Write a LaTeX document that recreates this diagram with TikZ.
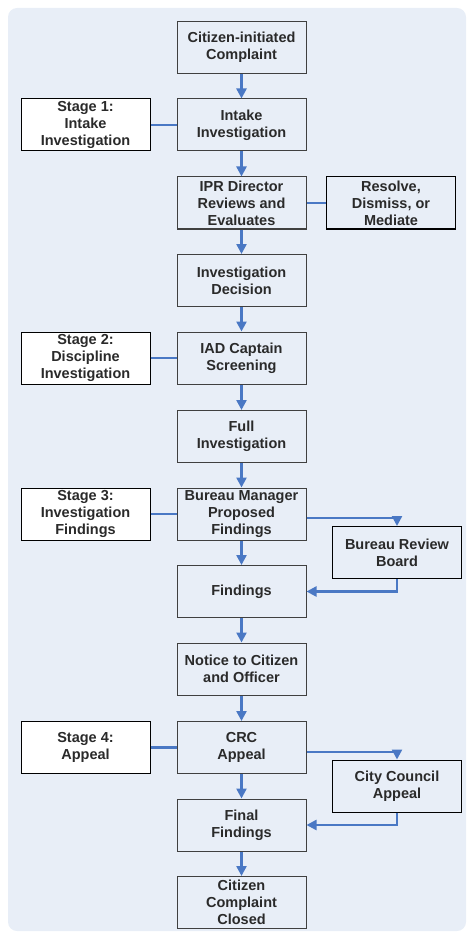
\documentclass[tikz,border=0pt]{standalone}
\usepackage{fontspec}
\setmainfont{Liberation Sans}
\usetikzlibrary{arrows.meta}
\definecolor{bgblue}{HTML}{E8EEF7}
\definecolor{flow}{HTML}{4A78C4}
\definecolor{ink}{HTML}{2A2A2A}
\definecolor{frame}{HTML}{404040}
\begin{document}
\begin{tikzpicture}[x=1pt,y=-1pt,
  box/.style={draw=frame, line width=1pt, minimum width=129pt, minimum height=52pt,
    inner sep=1pt, align=center, text=ink, font=\fontsize{14.5}{17}\selectfont\bfseries},
  stagebox/.style={box, draw=black, fill=white},
  sidebox/.style={box, draw=black},
  link/.style={draw=flow, line width=2.4pt},
  flowarrow/.style={link, -{Triangle[length=10pt,width=10pt]}}]

% page and rounded panel
\useasboundingbox (0,0) rectangle (467,933);
\fill[bgblue] (8,8) [rounded corners=9pt] rectangle (466,931);

% main column
\node[box] (c1)  at (241.5,47.5) {Citizen-initiated\\Complaint};
\node[box] (c2)  at (241.5,125)  {Intake\\Investigation};
\node[box] (c3)  at (241.5,203)  {IPR Director\\Reviews and\\Evaluates};
\node[box] (c4)  at (241.5,280.5){Investigation\\Decision};
\node[box] (c5)  at (241.5,358)  {IAD Captain\\Screening};
\node[box] (c6)  at (241.5,436.5){Full\\Investigation};
\node[box] (c7)  at (241.5,514)  {Bureau Manager\\Proposed\\Findings};
\node[box] (c8)  at (241.5,591.5){Findings};
\node[box] (c9)  at (241.5,669)  {Notice to Citizen\\and Officer};
\node[box] (c10) at (241.5,747.5){CRC\\Appeal};
\node[box] (c11) at (241.5,825)  {Final\\Findings};
\node[box] (c12) at (241.5,902.5){Citizen\\Complaint\\Closed};

% stage labels
\node[stagebox] (s1) at (85.5,125)   {Stage 1:\\Intake\\Investigation};
\node[stagebox] (s2) at (85.5,358)   {Stage 2:\\Discipline\\Investigation};
\node[stagebox] (s3) at (85.5,514)   {Stage 3:\\Investigation\\Findings};
\node[stagebox] (s4) at (85.5,747.5) {Stage 4:\\Appeal};

% side branches
\node[sidebox] (r1) at (391,203)   {Resolve,\\Dismiss, or\\Mediate};
\node[sidebox] (b1) at (397,552.5) {Bureau Review\\Board};
\node[sidebox] (b2) at (397,786)   {City Council\\Appeal};

% main flow
\foreach \a/\b in {c1/c2,c2/c3,c3/c4,c4/c5,c5/c6,c6/c7,c7/c8,c8/c9,c9/c10,c10/c11,c11/c12}
  \draw[flowarrow] (\a) -- (\b);

% stage ties
\foreach \s/\c in {s1/c2,s2/c5,s3/c7,s4/c10}
  \draw[link] (\s) -- (\c);
\draw[link] (c3) -- (r1);

% review loops
\draw[flowarrow] ([yshift=-4pt]c7.east) -| (b1.north);
\draw[flowarrow] (b1.south) |- (c8.east);
\draw[flowarrow] ([yshift=-4.5pt]c10.east) -| (b2.north);
\draw[flowarrow] (b2.south) |- (c11.east);
\end{tikzpicture}
\end{document}
